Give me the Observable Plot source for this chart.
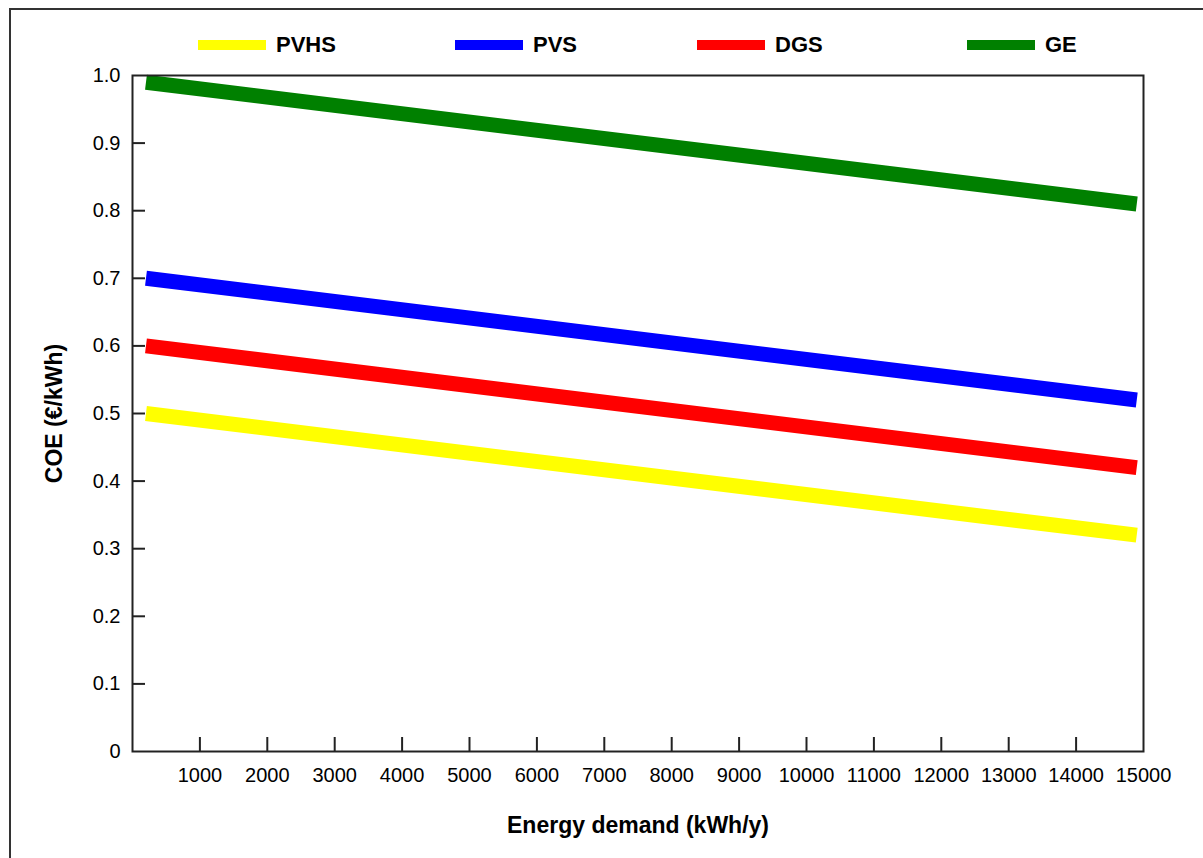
<!DOCTYPE html>
<html><head><meta charset="utf-8">
<script src="https://cdn.jsdelivr.net/npm/d3@7"></script>
<script src="https://cdn.jsdelivr.net/npm/@observablehq/plot@0.6"></script>
<style>
html,body{margin:0;padding:0;background:#fff}
body{font-family:"Liberation Sans",Arial,sans-serif;overflow:hidden;width:1203px;height:858px;position:relative}
#border{position:absolute;left:9px;top:8px;width:1400px;height:1200px;border:2px solid #333;box-sizing:border-box;z-index:5;pointer-events:none}
#chart{position:absolute;left:0;top:0}
.item{position:absolute;top:33px;height:24px;display:flex;align-items:center}
.sw{width:68px;height:10px;margin-right:10px}
.lab{font-weight:bold;font-size:22px;color:#000;line-height:24px}
</style>
</head><body>
<div id="border"></div>
<div id="chart"></div>
<div id="legend"></div>
<script>
// ---- data ----
const series = ["PVHS", "PVS", "DGS", "GE"];
const colors = ["#ffff00", "#0000ff", "#ff0000", "#008000"];
const demand = [200, 14900];            // kWh/y, start and end of each line
const pvhs = [0.50, 0.32];
const pvs  = [0.70, 0.52];
const dgs  = [0.60, 0.42];
const ge   = [0.99, 0.81];
const xTicks = [1000,2000,3000,4000,5000,6000,7000,8000,9000,10000,11000,12000,13000,14000,15000];
const yTicks = [0,0.1,0.2,0.3,0.4,0.5,0.6,0.7,0.8,0.9,1.0];

const values = {PVHS: pvhs, PVS: pvs, DGS: dgs, GE: ge};
const rows = series.flatMap(s => demand.map((x, i) => ({series: s, x, y: values[s][i]})));

const chart = Plot.plot({
  width: 1203, height: 858,
  marginLeft: 132, marginRight: 60, marginTop: 75, marginBottom: 107,
  x: {domain: [0, 15000]},
  y: {domain: [0, 1]},
  color: {domain: series, range: colors},
  style: {fontFamily: "Liberation Sans, Arial, sans-serif", fontSize: "20px", background: "transparent", color: "#000"},
  marks: [
    Plot.line(rows, {x: "x", y: "y", z: "series", stroke: "series", strokeWidth: 15, strokeLinecap: "butt", strokeLinejoin: "miter"}),
    Plot.frame({stroke: "#222", strokeWidth: 2}),
    Plot.axisY(yTicks, {tickSize: 0, tickPadding: 12, tickFormat: d => d === 0 ? "0" : d.toFixed(1), label: null, fontSize: 20}),
    Plot.axisY(yTicks.slice(1, -1), {tickSize: -13, tickFormat: () => "", label: null, strokeWidth: 2, stroke: "#222"}),
    Plot.axisX(xTicks, {tickSize: 0, tickPadding: 16, tickFormat: d => String(d), label: null, fontSize: 20}),
    Plot.axisX(xTicks.slice(0, -1), {tickSize: -14, tickFormat: () => "", label: null, strokeWidth: 2, stroke: "#222"}),
    Plot.text(["COE (€/kWh)"], {frameAnchor: "left", textAnchor: "middle", dx: -78, rotate: -90, fontWeight: "bold", fontSize: 23}),
    Plot.text(["Energy demand (kWh/y)"], {frameAnchor: "bottom", textAnchor: "middle", dy: 81, fontWeight: "bold", fontSize: 23})
  ]
});
document.getElementById("chart").appendChild(chart);

// legend (layout only)
const legendLeft = [198, 455, 697, 967];
const legend = document.getElementById("legend");
series.forEach((s, i) => {
  const item = document.createElement("div");
  item.className = "item";
  item.style.left = legendLeft[i] + "px";
  item.innerHTML = `<div class="sw" style="background:${colors[i]}"></div><div class="lab">${s}</div>`;
  legend.appendChild(item);
});
</script>
</body></html>
